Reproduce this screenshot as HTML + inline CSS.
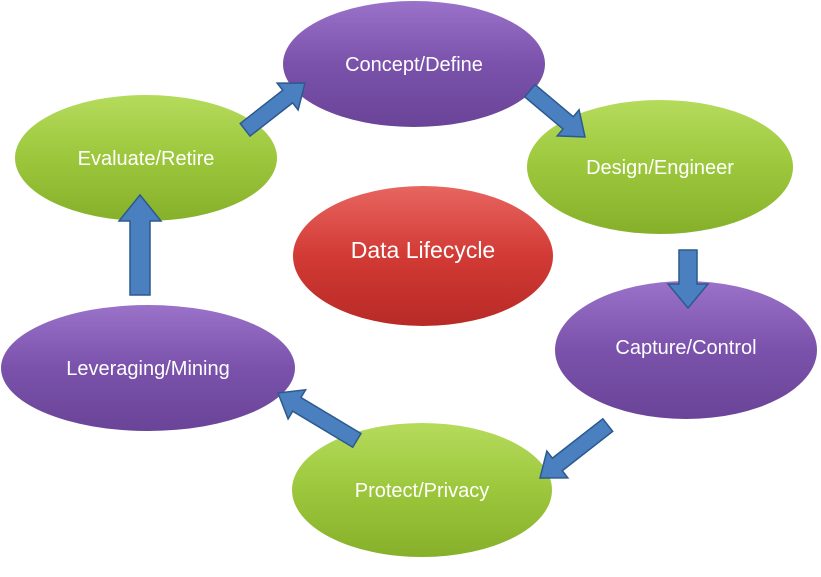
<!DOCTYPE html><html><head><style>body{margin:0;background:#fff}svg{display:block}text{font-family:"Liberation Sans",sans-serif;fill:#fff;text-anchor:middle}</style></head><body>
<svg width="821" height="577" viewBox="0 0 821 577">
<defs>
<linearGradient id="p" x1="0" y1="0" x2="0" y2="1"><stop offset="0" stop-color="#9b72c9"/><stop offset="0.5" stop-color="#7a52ab"/><stop offset="1" stop-color="#6a4498"/></linearGradient>
<linearGradient id="g" x1="0" y1="0" x2="0" y2="1"><stop offset="0" stop-color="#b5db5c"/><stop offset="0.5" stop-color="#9cc73c"/><stop offset="1" stop-color="#86b02a"/></linearGradient>
<linearGradient id="r" x1="0" y1="0" x2="0" y2="1"><stop offset="0" stop-color="#e86560"/><stop offset="0.5" stop-color="#d23a35"/><stop offset="1" stop-color="#b82a26"/></linearGradient>
</defs>
<ellipse cx="414" cy="64" rx="131" ry="63" fill="url(#p)"/>
<ellipse cx="146" cy="158" rx="131" ry="63" fill="url(#g)"/>
<ellipse cx="660" cy="167" rx="133" ry="67" fill="url(#g)"/>
<ellipse cx="423" cy="256" rx="130" ry="70" fill="url(#r)"/>
<ellipse cx="686" cy="350" rx="131" ry="69" fill="url(#p)"/>
<ellipse cx="148" cy="368" rx="147" ry="63" fill="url(#p)"/>
<ellipse cx="422" cy="490" rx="130" ry="67" fill="url(#g)"/>
<g font-size="20">
<text x="414" y="71">Concept/Define</text>
<text x="146" y="165">Evaluate/Retire</text>
<text x="660" y="174">Design/Engineer</text>
<text x="423" y="258" font-size="23">Data Lifecycle</text>
<text x="686" y="354">Capture/Control</text>
<text x="148" y="375">Leveraging/Mining</text>
<text x="422" y="497">Protect/Privacy</text>
</g>
<g fill="#4a7fc0" stroke="#2c5a8e" stroke-width="1.5">
<polygon transform="translate(305,83) rotate(-38)" points="0,0 -22,-17 -22,-8 -76,-8 -76,8 -22,8 -22,17"/>
<polygon transform="translate(585,137) rotate(40)" points="0,0 -22,-17 -22,-8 -72,-8 -72,8 -22,8 -22,17"/>
<polygon transform="translate(688,308) rotate(90)" points="0,0 -24,-20 -24,-9 -58,-9 -58,9 -24,9 -24,20"/>
<polygon transform="translate(540,478) rotate(142)" points="0,0 -22,-17 -22,-8 -86,-8 -86,8 -22,8 -22,17"/>
<polygon transform="translate(278,393) rotate(-149)" points="0,0 -22,-17 -22,-8 -92,-8 -92,8 -22,8 -22,17"/>
<polygon transform="translate(140,195) rotate(-90)" points="0,0 -26,-21 -26,-10 -100,-10 -100,10 -26,10 -26,21"/>
</g>
</svg></body></html>
